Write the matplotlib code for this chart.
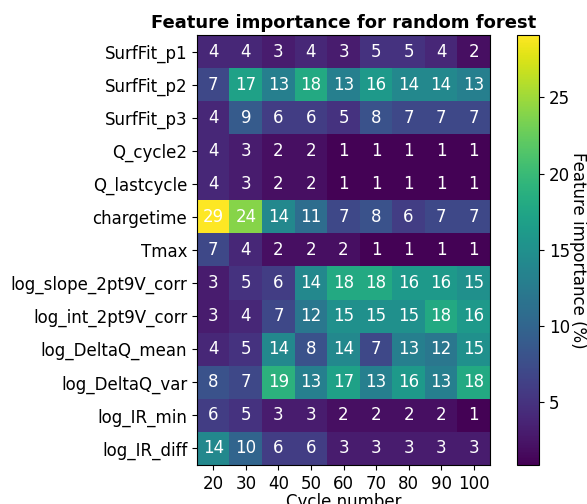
import numpy as np
import matplotlib
matplotlib.use('Agg')
import matplotlib.pyplot as plt

# Data #
features = ['SurfFit_p1', 'SurfFit_p2', 'SurfFit_p3', 'Q_cycle2', 'Q_lastcycle',
            'chargetime', 'Tmax', 'log_slope_2pt9V_corr', 'log_int_2pt9V_corr',
            'log_DeltaQ_mean', 'log_DeltaQ_var', 'log_IR_min', 'log_IR_diff']
cycles = [20, 30, 40, 50, 60, 70, 80, 90, 100]

SurfFit_p1 = [4, 4, 3, 4, 3, 5, 5, 4, 2]
SurfFit_p2 = [7, 17, 13, 18, 13, 16, 14, 14, 13]
SurfFit_p3 = [4, 9, 6, 6, 5, 8, 7, 7, 7]
Q_cycle2 = [4, 3, 2, 2, 1, 1, 1, 1, 1]
Q_lastcycle = [4, 3, 2, 2, 1, 1, 1, 1, 1]
chargetime = [29, 24, 14, 11, 7, 8, 6, 7, 7]
Tmax = [7, 4, 2, 2, 2, 1, 1, 1, 1]
log_slope = [3, 5, 6, 14, 18, 18, 16, 16, 15]
log_int = [3, 4, 7, 12, 15, 15, 15, 18, 16]
log_DeltaQ_mean = [4, 5, 14, 8, 14, 7, 13, 12, 15]
log_DeltaQ_var = [8, 7, 19, 13, 17, 13, 16, 13, 18]
log_IR_min = [6, 5, 3, 3, 2, 2, 2, 2, 1]
log_IR_diff = [14, 10, 6, 6, 3, 3, 3, 3, 3]

importance = np.array([SurfFit_p1, SurfFit_p2, SurfFit_p3, Q_cycle2, Q_lastcycle,
                       chargetime, Tmax, log_slope, log_int, log_DeltaQ_mean,
                       log_DeltaQ_var, log_IR_min, log_IR_diff])

# Figure #
fig = plt.figure(figsize=(5.87, 5.04), dpi=100)
ax = fig.add_axes([197 / 587, 39 / 504, 293 / 587, 430 / 504])
cax = fig.add_axes([517 / 587, 39 / 504, 22 / 587, 430 / 504])

im = ax.imshow(importance, cmap='viridis', aspect='auto', vmin=0.85, vmax=29.1)

for i in range(importance.shape[0]):
    for j in range(importance.shape[1]):
        ax.text(j, i, '%d' % importance[i, j], ha='center', va='center',
                color='w', fontsize=12)

ax.set_xticks(np.arange(len(cycles)))
ax.set_xticklabels(cycles, fontsize=12)
ax.set_yticks(np.arange(len(features)))
ax.set_yticklabels(features, fontsize=12)
ax.set_xlabel('Cycle number', fontsize=12, labelpad=0)
ax.set_title('Feature importance for random forest', fontsize=13, fontweight='bold', pad=5)

cb = fig.colorbar(im, cax=cax)
cb.set_ticks([5, 10, 15, 20, 25])
cb.ax.tick_params(labelsize=12)
cb.set_label('Feature importance (%)', rotation=270, fontsize=12, labelpad=12)

fig.savefig('out.png', dpi=100)
